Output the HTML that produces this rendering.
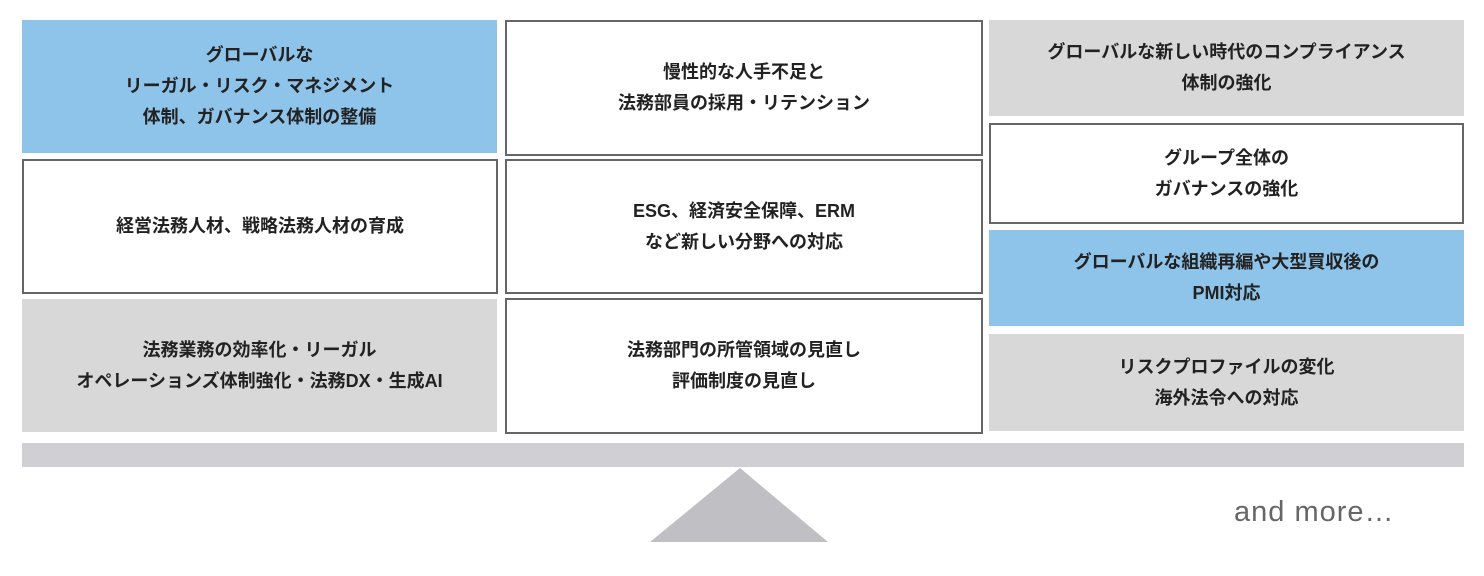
<!DOCTYPE html>
<html><head><meta charset="utf-8"><style>
body{margin:0;width:1484px;height:576px;background:#fff;position:relative;overflow:hidden;font-family:"Liberation Sans","Noto Sans CJK JP",sans-serif;}
.b{position:absolute;box-sizing:border-box;display:flex;align-items:center;justify-content:center;text-align:center;font-weight:bold;font-size:18px;line-height:31px;color:#222;}
.bl{background:#8ec3ea;}
.gr{background:#d9d8d8;}
.wh{background:#fff;border:2px solid #666;}
</style></head><body>
<div class="b bl" style="left:22px;top:20px;width:475px;height:133px;">グローバルな<br>リーガル・リスク・マネジメント<br>体制、ガバナンス体制の整備</div>
<div class="b wh" style="left:22px;top:159px;width:476px;height:135px;">経営法務人材、戦略法務人材の育成</div>
<div class="b gr" style="left:22px;top:299px;width:475px;height:133px;">法務業務の効率化・リーガル<br>オペレーションズ体制強化・法務DX・生成AI</div>

<div class="b wh" style="left:505px;top:20px;width:478px;height:136px;">慢性的な人手不足と<br>法務部員の採用・リテンション</div>
<div class="b wh" style="left:505px;top:159px;width:478px;height:135px;">ESG、経済安全保障、ERM<br>など新しい分野への対応</div>
<div class="b wh" style="left:505px;top:298px;width:478px;height:136px;">法務部門の所管領域の見直し<br>評価制度の見直し</div>

<div class="b gr" style="left:989px;top:20px;width:475px;height:96px;">グローバルな新しい時代のコンプライアンス<br>体制の強化</div>
<div class="b wh" style="left:989px;top:123px;width:475px;height:101px;">グループ全体の<br>ガバナンスの強化</div>
<div class="b bl" style="left:989px;top:230px;width:475px;height:96px;">グローバルな組織再編や大型買収後の<br>PMI対応</div>
<div class="b gr" style="left:989px;top:334px;width:475px;height:97px;">リスクプロファイルの変化<br>海外法令への対応</div>

<div style="position:absolute;left:22px;top:443px;width:1442px;height:24px;background:#d0d0d4;"></div>
<svg style="position:absolute;left:0;top:0" width="1484" height="576"><polygon points="740,468 828,542 650,542" fill="#bfbfc4"/></svg>
<div style="position:absolute;left:1234px;top:496px;font-size:29px;letter-spacing:1px;color:#666;">and more…</div>
</body></html>
